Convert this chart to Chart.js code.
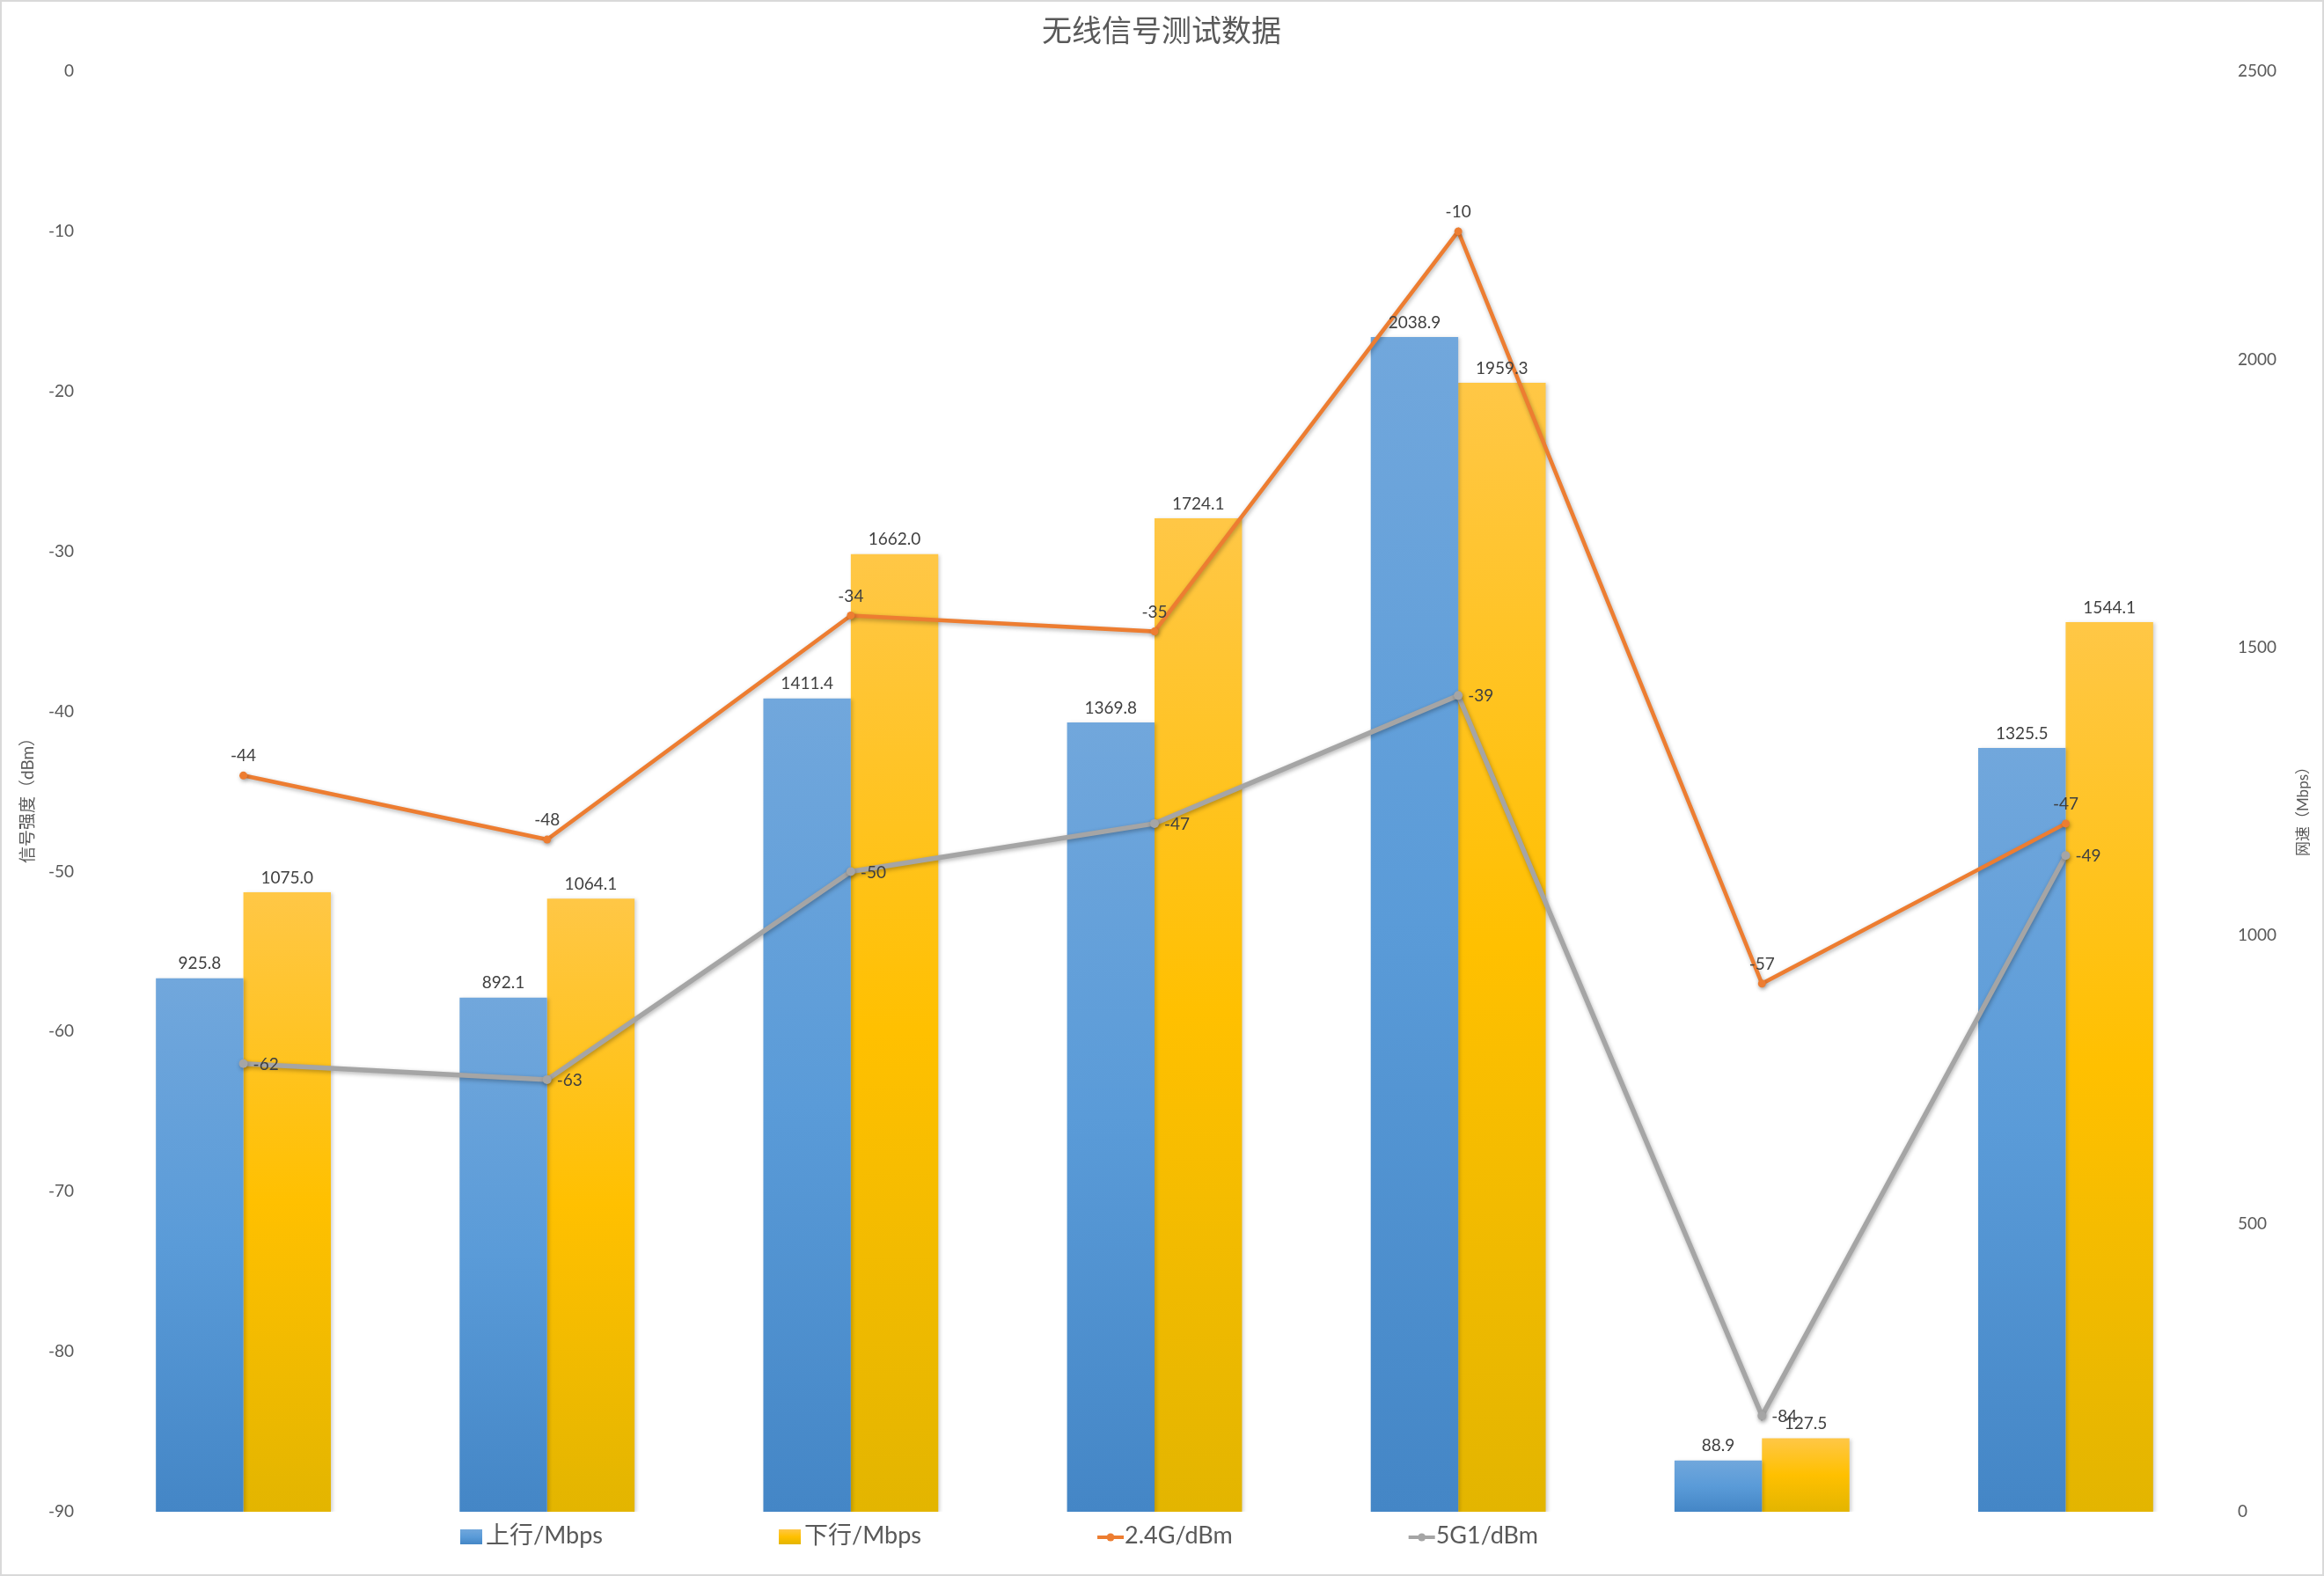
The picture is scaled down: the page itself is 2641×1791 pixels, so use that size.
<!DOCTYPE html>
<html>
<head>
<meta charset="utf-8">
<title>无线信号测试数据</title>
<script src="https://cdn.jsdelivr.net/npm/chart.js@4.4.0/dist/chart.umd.min.js"></script>
<style>
  html, body { margin: 0; padding: 0; background: #fff; }
  canvas { display: block; }
</style>
</head>
<body>
<canvas id="signalChart" width="2641" height="1791"></canvas>
<script>
// 数据
const categories = ['', '', '', '', '', '', ''];
const uploadMbps = [925.8, 892.1, 1411.4, 1369.8, 2038.9, 88.9, 1325.5];
const downloadMbps = [1075.0, 1064.1, 1662.0, 1724.1, 1959.3, 127.5, 1544.1];
const signal24G = [-44, -48, -34, -35, -10, -57, -47];
const signal5G1 = [-62, -63, -50, -47, -39, -84, -49];
const signalAxis = [-90, 0, 10];   // min, max, step
const speedAxis = [0, 2500, 500];  // min, max, step

const TEXT = '#595959';
const NUM_FONT = "Lato, 'Noto Sans CJK SC', sans-serif";
const CJK_FONT = "'Noto Sans CJK SC', sans-serif";

const BLUE = ['#71A7DC', '#5A9BD8', '#4486C6'];
const GOLD = ['#FFC746', '#FFC000', '#E3B500'];

// each bar gets its own top-to-bottom gradient, like the office chart
function barGradient(stops) {
  return (c) => {
    const chart = c.chart;
    const scale = chart.scales.y2;
    if (!chart.chartArea || c.type !== 'data' || !scale) return stops[1];
    const y0 = scale.getPixelForValue(c.raw);
    const y1 = scale.getPixelForValue(0);
    if (!isFinite(y0) || !isFinite(y1) || y0 === y1) return stops[1];
    const g = chart.ctx.createLinearGradient(0, y0, 0, y1);
    g.addColorStop(0, stops[0]);
    g.addColorStop(0.5, stops[1]);
    g.addColorStop(1, stops[2]);
    return g;
  };
}

const frame = {
  id: 'frame',
  beforeDraw(chart) {
    const ctx = chart.ctx;
    ctx.save();
    ctx.fillStyle = '#fff';
    ctx.fillRect(0, 0, chart.width, chart.height);
    ctx.strokeStyle = '#D9D9D9';
    ctx.lineWidth = 2;
    ctx.strokeRect(1, 1, chart.width - 2, chart.height - 2);
    ctx.restore();
  }
};

const shadows = {
  id: 'shadows',
  beforeDatasetDraw(chart, args) {
    const ctx = chart.ctx;
    const type = chart.data.datasets[args.index].type;
    ctx.save();
    if (type === 'line') {
      ctx.shadowColor = 'rgba(0,0,0,0.3)';
      ctx.shadowBlur = 5;
      ctx.shadowOffsetX = 1;
      ctx.shadowOffsetY = 2;
    } else {
      ctx.shadowColor = 'rgba(0,0,0,0.18)';
      ctx.shadowBlur = 4;
      ctx.shadowOffsetX = 2;
      ctx.shadowOffsetY = 1;
    }
  },
  afterDatasetDraw(chart) {
    chart.ctx.restore();
  }
};

const valueLabels = {
  id: 'valueLabels',
  afterDatasetsDraw(chart) {
    const ctx = chart.ctx;
    ctx.save();
    ctx.font = '19px ' + NUM_FONT;
    ctx.fillStyle = '#404040';
    chart.data.datasets.forEach((ds, i) => {
      const meta = chart.getDatasetMeta(i);
      meta.data.forEach((el, j) => {
        const v = ds.data[j];
        if (ds.type === 'bar') {
          ctx.textAlign = 'center';
          ctx.textBaseline = 'bottom';
          ctx.fillText(v.toFixed(1), el.x, el.y - 7);
        } else if (ds.labelSide === 'top') {
          ctx.textAlign = 'center';
          ctx.textBaseline = 'middle';
          ctx.fillText(String(v), el.x, el.y - 22);
        } else {
          ctx.textAlign = 'left';
          ctx.textBaseline = 'middle';
          ctx.fillText(String(v), el.x + 11, el.y + 1);
        }
      });
    });
    ctx.restore();
  }
};

const decorations = {
  id: 'decorations',
  afterDraw(chart) {
    const ctx = chart.ctx;
    ctx.save();
    ctx.fillStyle = TEXT;

    // title
    ctx.font = '34px ' + CJK_FONT;
    ctx.textAlign = 'center';
    ctx.textBaseline = 'middle';
    ctx.fillText('无线信号测试数据', 1320, 34);

    // axis titles, both read bottom to top
    ctx.save();
    ctx.translate(32, 905);
    ctx.rotate(-Math.PI / 2);
    ctx.font = '19px ' + NUM_FONT;
    ctx.fillText('信号强度（dBm）', 0, 0);
    ctx.restore();

    ctx.save();
    ctx.translate(2618, 918);
    ctx.rotate(-Math.PI / 2);
    ctx.font = '17px ' + NUM_FONT;
    ctx.fillText('网速（Mbps）', 0, 0);
    ctx.restore();

    // legend
    ctx.font = '27px ' + NUM_FONT;
    ctx.textAlign = 'left';
    ctx.textBaseline = 'middle';
    const cy = 1747;
    let x = 523;
    chart.data.datasets.forEach((ds) => {
      if (ds.type === 'bar') {
        const g = ctx.createLinearGradient(0, cy - 9, 0, cy + 8);
        g.addColorStop(0, ds.legendStops[0]);
        g.addColorStop(0.5, ds.legendStops[1]);
        g.addColorStop(1, ds.legendStops[2]);
        ctx.fillStyle = g;
        ctx.fillRect(x, cy - 9, 25, 17);
        x += 29;
      } else {
        ctx.strokeStyle = ds.borderColor;
        ctx.lineWidth = 4;
        ctx.beginPath();
        ctx.moveTo(x, cy);
        ctx.lineTo(x + 30, cy);
        ctx.stroke();
        ctx.fillStyle = ds.borderColor;
        ctx.beginPath();
        ctx.arc(x + 15, cy, 4.5, 0, Math.PI * 2);
        ctx.fill();
        x += 31;
      }
      ctx.fillStyle = TEXT;
      ctx.fillText(ds.label, x, cy - 2);
      x += ctx.measureText(ds.label).width + 200;
    });
    ctx.restore();
  }
};

const tickFont = { family: NUM_FONT, size: 19 };
const plainTick = (v) => String(v);

new Chart(document.getElementById('signalChart'), {
  data: {
    labels: categories,
    datasets: [
      {
        type: 'bar',
        label: '上行/Mbps',
        data: uploadMbps,
        yAxisID: 'y2',
        order: 1,
        backgroundColor: barGradient(BLUE),
        legendStops: BLUE,
        categoryPercentage: 0.576,
        barPercentage: 1.0
      },
      {
        type: 'bar',
        label: '下行/Mbps',
        data: downloadMbps,
        yAxisID: 'y2',
        order: 1,
        backgroundColor: barGradient(GOLD),
        legendStops: GOLD,
        categoryPercentage: 0.576,
        barPercentage: 1.0
      },
      {
        type: 'line',
        label: '2.4G/dBm',
        data: signal24G,
        yAxisID: 'y',
        order: 0,
        labelSide: 'top',
        borderColor: '#ED7D31',
        backgroundColor: '#ED7D31',
        borderWidth: 4.5,
        pointRadius: 4.5,
        pointBackgroundColor: '#ED7D31',
        pointBorderWidth: 0,
        tension: 0
      },
      {
        type: 'line',
        label: '5G1/dBm',
        data: signal5G1,
        yAxisID: 'y',
        order: 0,
        labelSide: 'right',
        borderColor: '#A5A5A5',
        backgroundColor: '#A5A5A5',
        borderWidth: 5.5,
        pointRadius: 5,
        pointBackgroundColor: '#A5A5A5',
        pointBorderWidth: 0,
        tension: 0
      }
    ]
  },
  options: {
    responsive: false,
    devicePixelRatio: 1,
    animation: false,
    layout: { padding: { top: 81, bottom: 73, left: 0, right: 0 } },
    plugins: {
      legend: { display: false },
      title: { display: false },
      tooltip: { enabled: false }
    },
    scales: {
      x: {
        display: false,
        offset: true,
        grid: { display: false }
      },
      y: {
        position: 'left',
        min: signalAxis[0],
        max: signalAxis[1],
        ticks: { stepSize: signalAxis[2], padding: 20, color: TEXT, font: tickFont, callback: plainTick },
        grid: { display: false, drawTicks: false },
        border: { display: false },
        afterFit(scale) { scale.width = 104; }
      },
      y2: {
        position: 'right',
        min: speedAxis[0],
        max: speedAxis[1],
        ticks: { stepSize: speedAxis[2], padding: 23, color: TEXT, font: tickFont, callback: plainTick },
        grid: { display: false, drawTicks: false },
        border: { display: false },
        afterFit(scale) { scale.width = 121; }
      }
    }
  },
  plugins: [frame, shadows, valueLabels, decorations]
});
</script>
</body>
</html>
